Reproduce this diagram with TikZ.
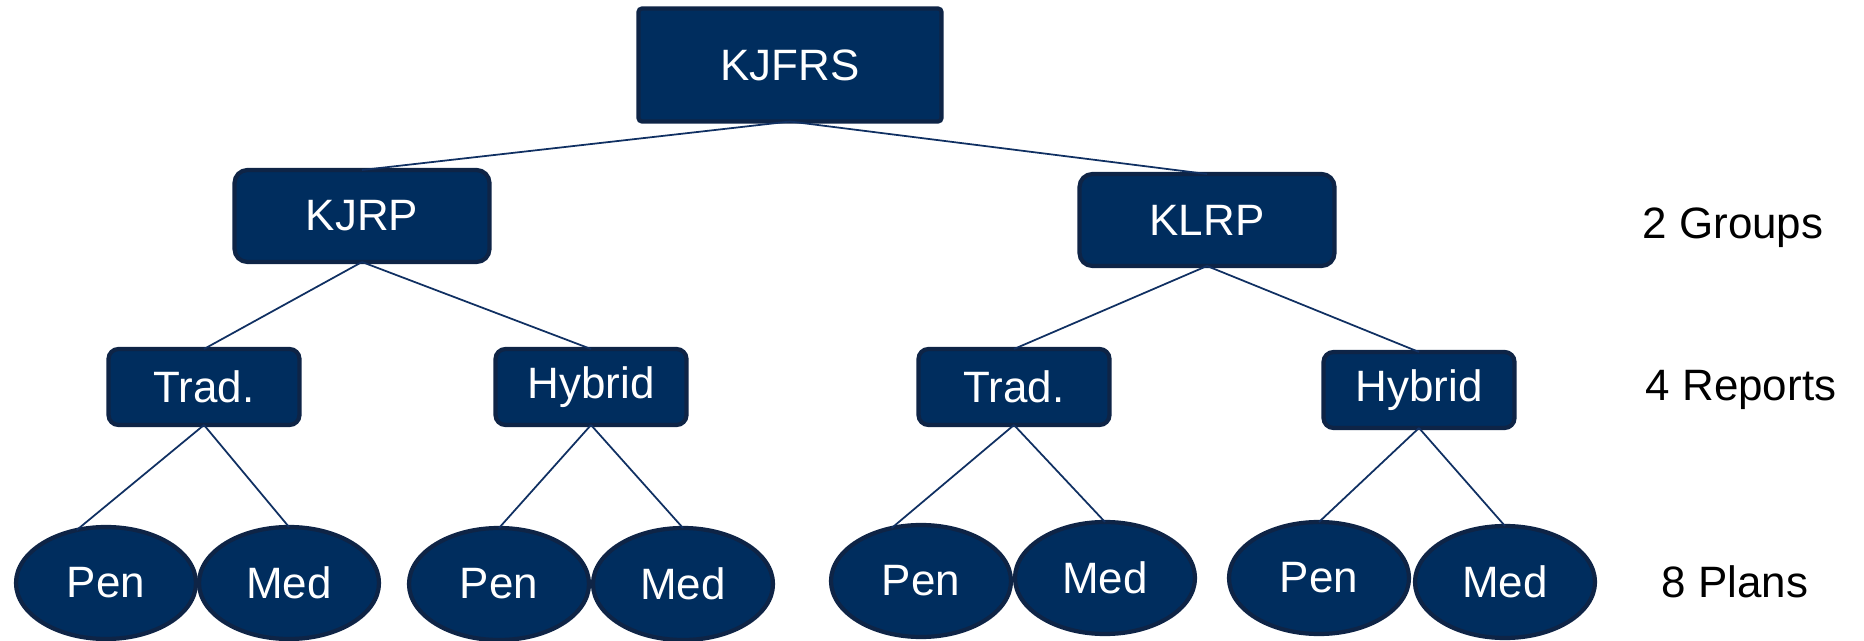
\documentclass[tikz,border=0pt]{standalone}
\usepackage{fontspec}
\setmainfont{Liberation Sans}
\usepackage{tikz}
\usepackage{xcolor}
\usetikzlibrary{calc,positioning,shapes}
\usetikzlibrary{shapes.geometric}
\definecolor{navyfill}{RGB}{0,45,94}
\definecolor{navyedge}{RGB}{14,36,70}
\definecolor{navyline}{RGB}{16,48,98}
\tikzset{%
	topbox/.style   = {draw=navyedge, fill=navyfill, line width=1.2pt, rectangle, rounded corners=1pt, minimum width=3.03cm, minimum height=1.13cm, text=white, inner sep=0pt, outer sep=0pt},
	groupbox/.style = {draw=navyedge, fill=navyfill, line width=1.2pt, rectangle, rounded corners=0.13cm, minimum width=2.55cm, minimum height=0.92cm, text=white, inner sep=0pt, outer sep=0pt},
	reportbox/.style= {draw=navyedge, fill=navyfill, line width=1.2pt, rectangle, rounded corners=0.1cm, minimum width=1.91cm, minimum height=0.76cm, text=white, inner sep=0pt, outer sep=0pt},
	plan/.style     = {draw=navyedge, fill=navyfill, line width=1.2pt, ellipse, minimum width=1.80cm, minimum height=1.12cm, text=white, inner sep=0pt, outer sep=0pt}, % Plan
	tier/.style     = {text=black, inner sep=0pt}, % Tier label
	link/.style     = {draw=navyline, line width=0.5pt},
}

\begin{document}
\begin{tikzpicture}[node distance = 1.5cm, font=\fontsize{12.5}{15}\selectfont]
	\useasboundingbox (0,0) rectangle (18.64,-6.41);
	\node[topbox] (kjfrs) at (7.90,-0.65) {KJFRS};
	\node[groupbox,below of=kjfrs,node distance = 1.51cm,xshift=-4.28cm] (kjrp) {KJRP};
	\node[groupbox,right of=kjrp,node distance = 8.45cm,yshift=-0.04cm] (klrp) {KLRP};
	\node[reportbox,below of=kjrp,node distance = 1.71cm,xshift=-1.58cm] (tradA) {Trad.};
	\node[reportbox,right of=tradA,node distance = 3.87cm] (hybA) {Hybrid};
	\node[reportbox,below of=klrp,node distance = 1.67cm,xshift=-1.93cm] (tradB) {Trad.};
	\node[reportbox,right of=tradB,node distance = 4.05cm,yshift=-0.03cm] (hybB) {Hybrid};
	\node[plan,below of=tradA,node distance = 1.96cm,xshift=-0.98cm] (penA) {Pen};
	\node[plan,right of=penA,node distance = 1.83cm] (medA) {Med};
	\node[plan,below of=hybA,node distance = 1.97cm,xshift=-0.92cm] (penB) {Pen};
	\node[plan,right of=penB,node distance = 1.84cm] (medB) {Med};
	\node[plan,below of=tradB,node distance = 1.94cm,xshift=-0.93cm] (penC) {Pen};
	\node[plan,right of=penC,node distance = 1.84cm,yshift=0.03cm] (medC) {Med};
	\node[plan,below of=hybB,node distance = 1.88cm,xshift=-1.00cm] (penD) {Pen};
	\node[plan,right of=penD,node distance = 1.86cm,yshift=-0.04cm] (medD) {Med};
	\node[tier,right of=klrp,node distance = 5.26cm,yshift=-0.08cm] (groups) {2 Groups};
	\node[tier,right of=hybB,node distance = 3.22cm] (reports) {4 Reports};
	\node[tier,right of=medD,node distance = 2.30cm] (plans) {8 Plans};
	
	\draw[link] (kjfrs.south) -- (kjrp.north);
	\draw[link] (kjfrs.south) -- (klrp.north);
	\draw[link] (kjrp.south) -- (tradA.north);
	\draw[link] (kjrp.south) -- (hybA.north);
	\draw[link] (klrp.south) -- (tradB.north);
	\draw[link] (klrp.south) -- (hybB.north);
	\draw[link] (tradA.south) -- (penA.119);
	\draw[link] (tradA.south) -- (medA.north);
	\draw[link] (hybA.south) -- (penB.north);
	\draw[link] (hybA.south) -- (medB.north);
	\draw[link] (tradB.south) -- (penC.119);
	\draw[link] (tradB.south) -- (medC.north);
	\draw[link] (hybB.south) -- (penD.north);
	\draw[link] (hybB.south) -- (medD.north);
\end{tikzpicture}
\end{document}
